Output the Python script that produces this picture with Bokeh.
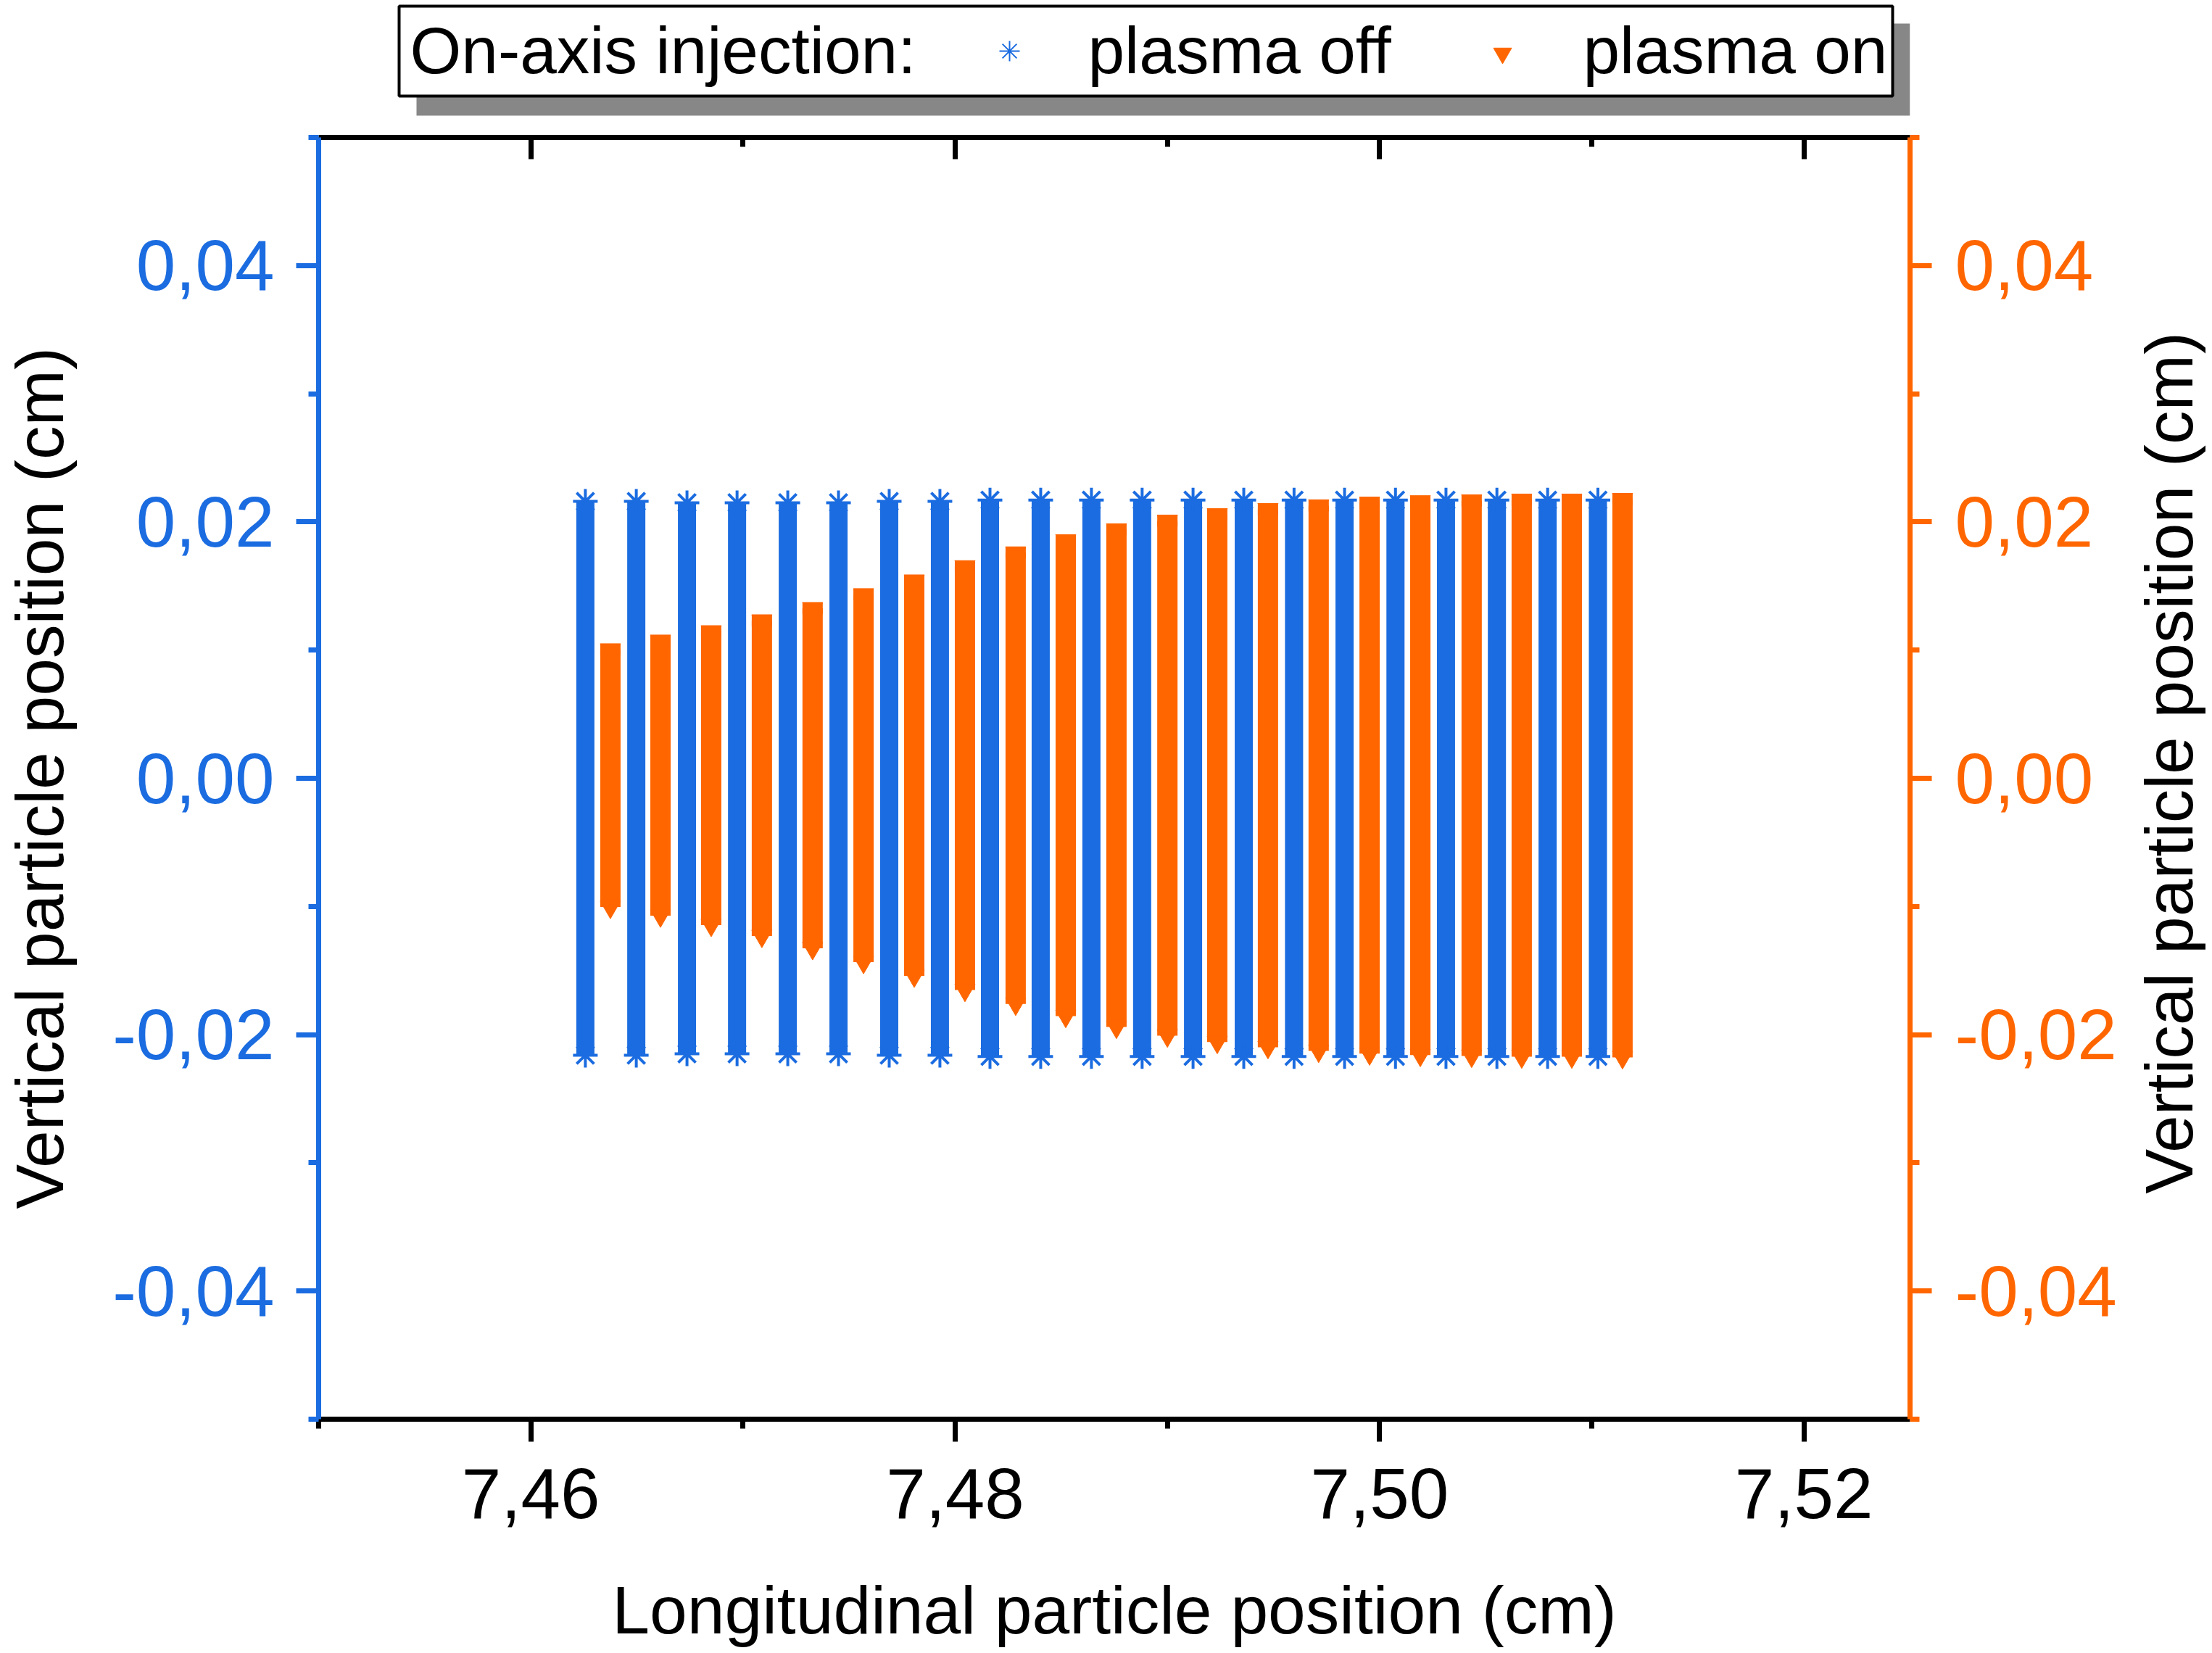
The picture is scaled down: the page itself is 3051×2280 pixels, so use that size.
import math
from bokeh.plotting import figure
from bokeh.models import Range1d, LinearAxis, FixedTicker, CustomJSTickFormatter
from bokeh.layouts import column, row
from bokeh.embed import file_html
from bokeh.resources import INLINE
from bokeh.core.properties import value

# ---------------- data ----------------
# plasma off: longitudinal position of each bunch column and its vertical half-extent (cm)
x_off = [7.46257, 7.46497, 7.46736, 7.46972, 7.47211, 7.47450, 7.47689,
         7.47928, 7.48164, 7.48403, 7.48642, 7.48881, 7.49121, 7.49360,
         7.49597, 7.49835, 7.50075, 7.50313, 7.50553, 7.50792, 7.51029]
h_off = [0.0216, 0.0216, 0.0215, 0.0215, 0.0215, 0.0215, 0.0216,
         0.0216, 0.0217, 0.0217, 0.0217, 0.0217, 0.0217, 0.0217,
         0.0217, 0.0217, 0.0217, 0.0217, 0.0217, 0.0217, 0.0217]
# plasma on
x_on = [7.46375, 7.46611, 7.46850, 7.47089, 7.47328, 7.47568, 7.47807,
        7.48046, 7.48285, 7.48521, 7.48760, 7.49000, 7.49235, 7.49474,
        7.49713, 7.49953, 7.50192, 7.50434, 7.50670, 7.50906, 7.51145]
h_on = [0.01004, 0.01072, 0.01145, 0.01230, 0.01326, 0.01434, 0.01541,
        0.01652, 0.01760, 0.01855, 0.01940, 0.02008, 0.02058, 0.02098,
        0.02127, 0.02148, 0.02159, 0.02166, 0.02172, 0.02172, 0.02177]

x_major = [7.46, 7.48, 7.50, 7.52]
x_minor = [7.45, 7.47, 7.49, 7.51]
y_major = [-0.04, -0.02, 0.0, 0.02, 0.04]
y_minor = [-0.05, -0.03, -0.01, 0.01, 0.03, 0.05]

legend_title = "On-axis injection:"
label_off = "plasma off"
label_on = "plasma on"
x_title = "Longitudinal particle position (cm)"
y_title = "Vertical particle position (cm)"

# ---------------- style ----------------
BLUE = "#1b6ce0"
ORANGE = "#ff6600"
FONT = "Liberation Sans"
TICK_FS = "98px"
TITLE_FS = "93px"
LW = 7

FRAME_W, FRAME_H = 2195, 1768
MB_LEFT, MB_RIGHT = 432, 295
X0, X1 = 7.45, 7.525
Y0, Y1 = -0.05, 0.05
LG_H = 170
PAGE_X0 = 8
RT_LEFT = PAGE_X0 + MB_LEFT + FRAME_W + MB_RIGHT      # page x where the right-title strip starts
RT_W = 3043 - RT_LEFT
RT_H = 2200

fmt = CustomJSTickFormatter(code="return tick.toFixed(2).replace('.', ',');")
blank = CustomJSTickFormatter(code="return '';")

p = figure(frame_width=FRAME_W, frame_height=FRAME_H,
           x_range=Range1d(X0, X1), y_range=Range1d(Y0, Y1),
           output_backend="svg", toolbar_location=None,
           min_border_left=MB_LEFT, min_border_right=MB_RIGHT,
           min_border_top=19, min_border_bottom=250,
           x_axis_location="below", y_axis_location="left")
p.grid.visible = False
p.outline_line_color = None
p.background_fill_color = "white"
p.border_fill_color = "white"


def style_axis(ax, color, label_color, tick_out, minor_out, tick_in=0, minor_in=0):
    ax.axis_line_color = color
    ax.axis_line_width = LW
    ax.major_tick_line_color = color
    ax.minor_tick_line_color = color
    ax.major_tick_line_width = LW
    ax.minor_tick_line_width = LW
    ax.major_tick_out = tick_out
    ax.minor_tick_out = minor_out
    ax.major_tick_in = tick_in
    ax.minor_tick_in = minor_in
    ax.major_label_text_color = label_color
    ax.major_label_text_font = FONT
    ax.major_label_text_font_size = TICK_FS
    ax.axis_label_text_font = FONT
    ax.axis_label_text_font_size = TITLE_FS
    ax.axis_label_text_font_style = "normal"
    ax.axis_label_text_color = "black"


# bottom axis
bx = p.xaxis[0]
bx.ticker = FixedTicker(ticks=x_major, minor_ticks=x_minor)
bx.formatter = fmt
bx.axis_label = x_title
style_axis(bx, "black", "black", 31, 13)
bx.major_label_standoff = 37
bx.axis_label_standoff = 72

# left axis
ly = p.yaxis[0]
ly.ticker = FixedTicker(ticks=y_major, minor_ticks=y_minor)
ly.formatter = fmt
ly.axis_label = y_title
style_axis(ly, BLUE, BLUE, 31, 14)
ly.major_label_standoff = 30
ly.axis_label_standoff = 45

# right axis (its title is drawn in a narrow strip to the right, reading bottom-to-top)
ry = LinearAxis(ticker=FixedTicker(ticks=y_major, minor_ticks=y_minor), formatter=fmt)
style_axis(ry, ORANGE, ORANGE, 30, 13)
ry.major_label_standoff = 32
p.add_layout(ry, "right")

# top axis (ticks inward, no labels)
tx = LinearAxis(ticker=FixedTicker(ticks=x_major, minor_ticks=x_minor), formatter=blank)
style_axis(tx, "black", "black", 0, 0, tick_in=30, minor_in=13)
tx.major_label_text_font_size = "0px"
tx.major_label_standoff = 0
p.add_layout(tx, "above")

# ---------------- columns of particles ----------------
# plasma off: column body + asterisk markers at the ends
p.rect(x=x_off, y=0, width=25, width_units="screen",
       height=[2 * h for h in h_off], fill_color=BLUE, line_color=None)
p.scatter(x=x_off + x_off, y=h_off + [-h for h in h_off], marker="asterisk",
          size=34, line_color=BLUE, line_width=4)

# plasma on: column body + inverted triangles at the ends
p.rect(x=x_on, y=0, width=28, width_units="screen",
       height=[2 * h for h in h_on], fill_color=ORANGE, line_color=None)
p.rect(x=x_on, y=h_on, width=28, width_units="screen",
       height=16, height_units="screen", fill_color=ORANGE, line_color=None)
p.scatter(x=x_on + x_on, y=h_on + [-h for h in h_on], marker="inverted_triangle",
          size=28, fill_color=ORANGE, line_color=ORANGE, line_width=1)

# ---------------- legend strip (frame aligned with the plot, page-pixel coordinates) ----------------
lg = figure(frame_width=FRAME_W, frame_height=LG_H,
            x_range=Range1d(440, 440 + FRAME_W), y_range=Range1d(LG_H, 0),
            output_backend="svg", toolbar_location=None,
            min_border_left=MB_LEFT, min_border_right=MB_RIGHT,
            min_border_top=0, min_border_bottom=0,
            x_axis_location=None, y_axis_location=None)
lg.grid.visible = False
lg.outline_line_color = None
lg.background_fill_color = "white"
lg.border_fill_color = "white"

lg.quad(left=[575], right=[2635], top=[32], bottom=[159], fill_color="#878787", line_color=None)
lg.quad(left=[551], right=[2611], top=[8], bottom=[132], fill_color="white",
        line_color="black", line_width=4)
lg.text(x=[566, 1501, 2184], y=[69, 69, 69], text=[legend_title, label_off, label_on],
        text_font=value(FONT), text_font_size="91px", text_baseline="middle",
        text_align="left", text_color="black")
lg.scatter(x=[1393], y=[70], marker="asterisk", size=28, line_color=BLUE, line_width=2)
lg.scatter(x=[2073], y=[73], marker="inverted_triangle", size=25,
           fill_color=ORANGE, line_color=ORANGE)

# ---------------- right-title strip (page-pixel coordinates) ----------------
rt = figure(frame_width=RT_W, frame_height=RT_H,
            x_range=Range1d(RT_LEFT, RT_LEFT + RT_W), y_range=Range1d(RT_H, 0),
            output_backend="svg", toolbar_location=None, min_border=0,
            x_axis_location=None, y_axis_location=None)
rt.grid.visible = False
rt.outline_line_color = None
rt.background_fill_color = "white"
rt.border_fill_color = "white"
rt.text(x=[2992], y=[1052], text=[y_title], angle=math.pi / 2,
        text_font=value(FONT), text_font_size=TITLE_FS, text_baseline="middle",
        text_align="center", text_color="black")

layout = row(column(lg, p, spacing=0), rt, spacing=0)
open("out.html", "w").write(file_html(layout, INLINE))
